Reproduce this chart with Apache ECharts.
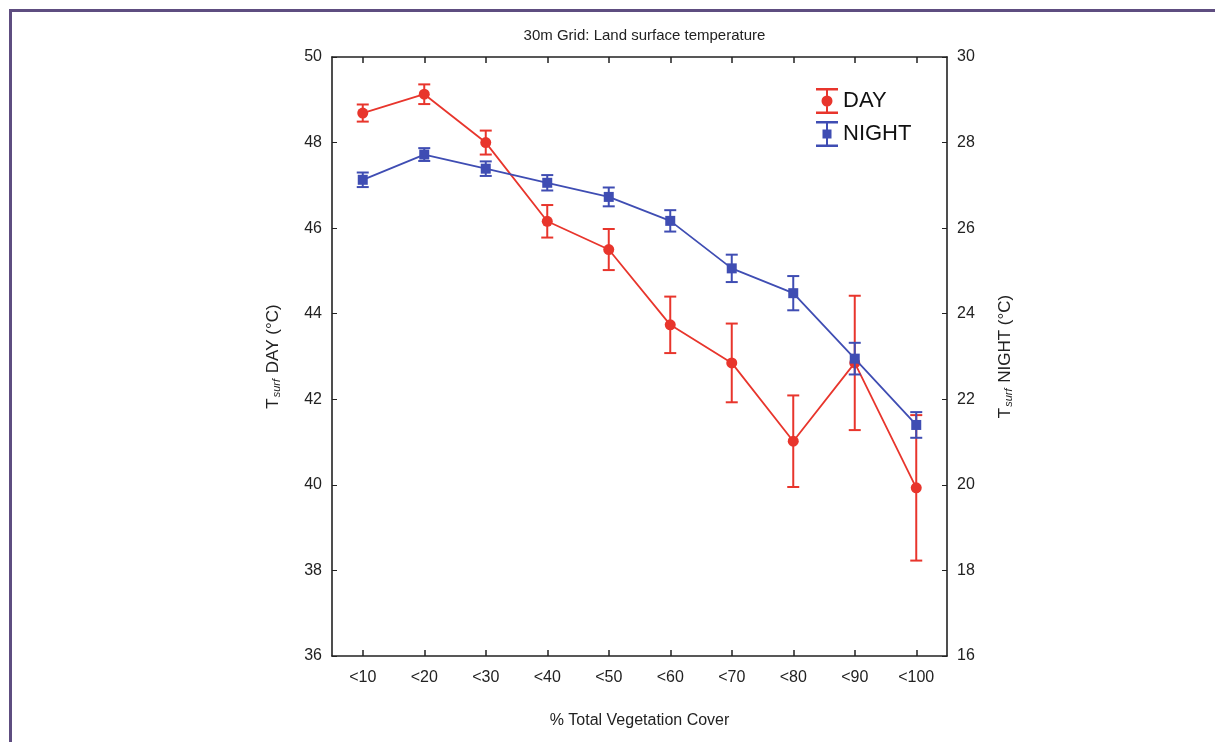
<!DOCTYPE html>
<html>
<head>
<meta charset="utf-8">
<script src="https://cdn.jsdelivr.net/npm/echarts@6/dist/echarts.min.js"></script>
<style>
  html, body { margin: 0; padding: 0; background: #fff; }
  #container { width: 1215px; height: 742px; }
</style>
</head>
<body>
<div id="container"></div>
<script>
// data
var categories = ['<10', '<20', '<30', '<40', '<50', '<60', '<70', '<80', '<90', '<100'];
var dayMean  = [48.69, 49.13, 48.0, 46.16, 45.5, 43.74, 42.85, 41.02, 42.85, 39.93];
var dayErr   = [0.2, 0.23, 0.28, 0.38, 0.48, 0.66, 0.92, 1.07, 1.57, 1.7];
var nightMean = [27.13, 27.72, 27.39, 27.06, 26.73, 26.17, 25.06, 24.48, 22.95, 21.40];
var nightErr  = [0.17, 0.15, 0.17, 0.18, 0.22, 0.25, 0.32, 0.40, 0.37, 0.30];

var RED = '#e8352c';
var BLUE = '#3f4db3';
var FONT = 'Liberation Sans';

function errData(mean, err) {
  var out = [];
  for (var i = 0; i < mean.length; i++) {
    out.push([i, mean[i] - err[i], mean[i] + err[i]]);
  }
  return out;
}

function errRender(color) {
  return function (params, api) {
    var x = api.value(0);
    var lo = api.coord([x, api.value(1)]);
    var hi = api.coord([x, api.value(2)]);
    var w = 6;
    var st = { stroke: color, lineWidth: 2 };
    return {
      type: 'group',
      children: [
        { type: 'line', shape: { x1: hi[0], y1: hi[1], x2: lo[0], y2: lo[1] }, style: st },
        { type: 'line', shape: { x1: hi[0] - w, y1: hi[1], x2: hi[0] + w, y2: hi[1] }, style: st },
        { type: 'line', shape: { x1: lo[0] - w, y1: lo[1], x2: lo[0] + w, y2: lo[1] }, style: st }
      ]
    };
  };
}

// legend icons: error bar with marker
var dayIcon = 'path://M0 0H22V2.4H0Z M10 0H12V26H10Z M0 23.6H22V26H0Z M5.5 13A5.5 5.5 0 1 1 16.5 13A5.5 5.5 0 1 1 5.5 13Z';
var nightIcon = 'path://M0 0H22V2.4H0Z M10 0H12V26H10Z M0 23.6H22V26H0Z M6.5 8.5H15.5V17.5H6.5Z';

var dom = document.getElementById('container');
var myChart = echarts.init(dom, null, { renderer: 'canvas' });

var axisLineStyle = { color: '#222', width: 1.6 };
var catTick = { show: true, inside: true, alignWithLabel: true, interval: 0, length: 6, lineStyle: { color: '#222', width: 1.5 } };

var option = {
  animation: false,
  backgroundColor: '#fff',
  textStyle: { fontFamily: FONT },
  title: {
    text: '30m Grid: Land surface temperature',
    left: 639.5,
    textAlign: 'center',
    top: 23,
    textStyle: { fontFamily: FONT, fontSize: 15, fontWeight: 'normal', color: '#222' }
  },
  legend: {
    orient: 'vertical',
    left: 811,
    top: 83,
    itemWidth: 22,
    itemHeight: 26,
    itemGap: 7,
    textStyle: { fontFamily: FONT, fontSize: 22, color: '#111' },
    data: [
      { name: 'DAY', icon: dayIcon, itemStyle: { color: RED } },
      { name: 'NIGHT', icon: nightIcon, itemStyle: { color: BLUE } }
    ]
  },
  graphic: [
    { type: 'line', shape: { x1: 9, y1: 10.5, x2: 1215, y2: 10.5 }, style: { stroke: '#5e4d80', lineWidth: 3 } },
    { type: 'line', shape: { x1: 10.5, y1: 9, x2: 10.5, y2: 742 }, style: { stroke: '#5e4d80', lineWidth: 3 } }
  ],
  grid: { left: 332, right: 268, top: 57, bottom: 86 },
  xAxis: [
    {
      type: 'category',
      data: categories,
      position: 'bottom',
      name: '% Total Vegetation Cover',
      nameLocation: 'middle',
      nameGap: 57,
      nameTextStyle: { fontFamily: FONT, fontSize: 16, color: '#222' },
      axisLine: { show: true, lineStyle: axisLineStyle },
      axisTick: catTick,
      axisLabel: { fontFamily: FONT, fontSize: 16, color: '#222', margin: 14 },
      splitLine: { show: false }
    },
    {
      type: 'category',
      data: categories,
      position: 'top',
      axisLine: { show: true, lineStyle: axisLineStyle },
      axisTick: catTick,
      axisLabel: { show: false },
      splitLine: { show: false }
    }
  ],
  yAxis: [
    {
      type: 'value',
      min: 36,
      max: 50,
      interval: 2,
      position: 'left',
      name: '{t|T}{s|surf}{t| DAY (°C)}',
      nameLocation: 'middle',
      nameRotate: 90,
      nameGap: 50,
      nameTextStyle: {
        rich: {
          t: { fontFamily: FONT, fontSize: 17, color: '#222' },
          s: { fontFamily: FONT, fontSize: 11, color: '#222', fontStyle: 'italic', verticalAlign: 'bottom', padding: [0, 1, 0, 1] }
        }
      },
      axisLine: { show: true, lineStyle: axisLineStyle },
      axisTick: { show: true, inside: true, length: 5, lineStyle: { color: '#222' } },
      axisLabel: { fontFamily: FONT, fontSize: 16, color: '#222', margin: 10 },
      splitLine: { show: false }
    },
    {
      type: 'value',
      min: 16,
      max: 30,
      interval: 2,
      position: 'right',
      name: '{t|T}{s|surf}{t| NIGHT (°C)}',
      nameLocation: 'middle',
      nameRotate: 90,
      nameGap: 50,
      nameTextStyle: {
        rich: {
          t: { fontFamily: FONT, fontSize: 17, color: '#222' },
          s: { fontFamily: FONT, fontSize: 11, color: '#222', fontStyle: 'italic', verticalAlign: 'bottom', padding: [0, 1, 0, 1] }
        }
      },
      axisLine: { show: true, lineStyle: axisLineStyle },
      axisTick: { show: true, inside: true, length: 5, lineStyle: { color: '#222' } },
      axisLabel: { fontFamily: FONT, fontSize: 16, color: '#222', margin: 10 },
      splitLine: { show: false }
    }
  ],
  series: [
    {
      name: 'DAY',
      type: 'line',
      data: dayMean,
      yAxisIndex: 0,
      symbol: 'circle',
      symbolSize: 11,
      lineStyle: { color: RED, width: 1.8 },
      itemStyle: { color: RED },
      z: 3
    },
    {
      name: 'DAY',
      type: 'custom',
      data: errData(dayMean, dayErr),
      yAxisIndex: 0,
      renderItem: errRender(RED),
      encode: { x: 0, y: [1, 2] },
      z: 2
    },
    {
      name: 'NIGHT',
      type: 'line',
      data: nightMean,
      yAxisIndex: 1,
      symbol: 'rect',
      symbolSize: 10,
      lineStyle: { color: BLUE, width: 1.8 },
      itemStyle: { color: BLUE },
      z: 5
    },
    {
      name: 'NIGHT',
      type: 'custom',
      data: errData(nightMean, nightErr),
      yAxisIndex: 1,
      renderItem: errRender(BLUE),
      encode: { x: 0, y: [1, 2] },
      z: 4
    }
  ]
};

myChart.setOption(option);
window.addEventListener('resize', myChart.resize);
</script>
</body>
</html>
